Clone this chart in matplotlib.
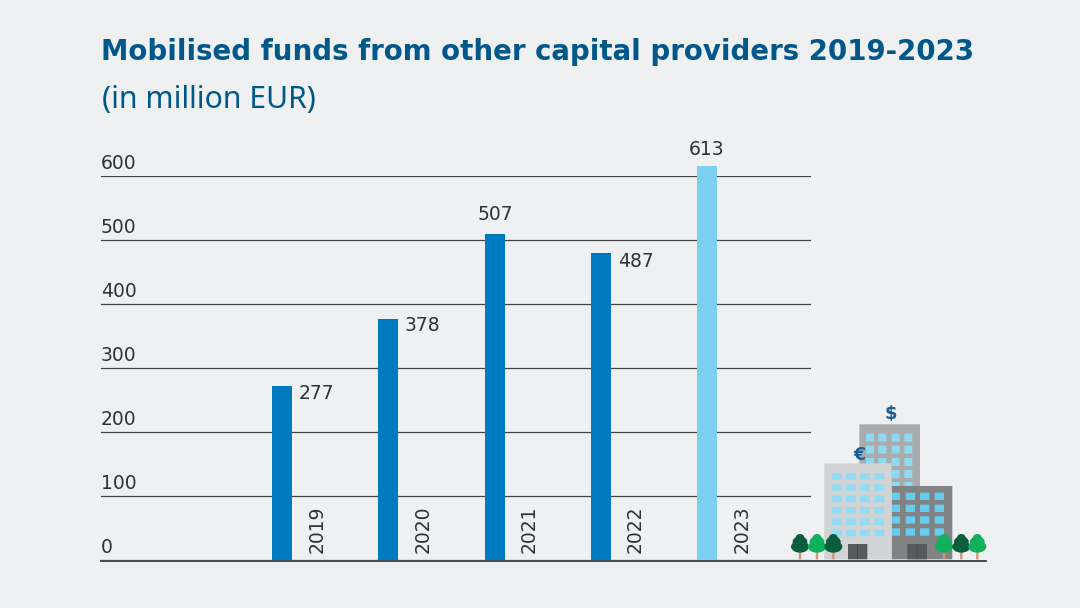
import matplotlib
matplotlib.use("Agg")
import matplotlib.pyplot as plt
from matplotlib.patches import Rectangle, Ellipse

years = ["2019", "2020", "2021", "2022", "2023"]
values = [277, 378, 507, 487, 613]
bar_heights = [272, 377, 509, 480, 616]
y_ticks = [0, 100, 200, 300, 400, 500, 600]
bar_colors = ["#0079c1", "#0079c1", "#0079c1", "#0079c1", "#7bd0f2"]
title = "Mobilised funds from other capital providers 2019-2023"
subtitle = "(in million EUR)"

BG = "#eef0f2"
BLUE = "#00578a"
INK = "#2e3238"
W, H = 1080, 608
plt.rcParams["font.family"] = ["DejaVu Sans"]

fig = plt.figure(figsize=(W / 100, H / 100), dpi=100, facecolor=BG)
L, R, T, B = 101, 811, 176, 560
ax = fig.add_axes([L / W, 1 - B / H, (R - L) / W, (B - T) / H], facecolor="none")
ax.set_ylim(0, 600)
ax.set_xlim((L - 282) / 106.25, (R - 282) / 106.25)
ax.set_yticks(y_ticks)
ax.set_xticks([])
ax.tick_params(left=False, labelleft=False)
for s in ax.spines.values():
    s.set_visible(False)
ax.yaxis.grid(True, color="#444444", lw=0.9)
ax.set_axisbelow(True)

xs = list(range(len(values)))
ax.bar(xs, bar_heights, width=20 / 106.25, color=bar_colors, clip_on=False, zorder=3)

FS = 13.5
for v in y_ticks:
    ax.annotate(str(v), (0, v), xycoords=("axes fraction", "data"), xytext=(0, 9),
                textcoords="offset points", fontsize=FS, color=INK, ha="left", va="center")
label_offsets = [(12, -5.5), (11.5, -5), (0.5, 14), (12.5, -6), (0, 12)]
label_align = ["left", "left", "center", "left", "center"]
for x, v, h, off, al in zip(xs, values, bar_heights, label_offsets, label_align):
    ax.annotate(str(v), (x, h), xytext=off, textcoords="offset points",
                fontsize=FS, color=INK, ha=al, va="center", annotation_clip=False)
for x, yr in zip(xs, years):
    ax.annotate(yr, (x, 0), xytext=(25, 5), textcoords="offset points", rotation=90,
                fontsize=FS, color=INK, ha="center", va="bottom")

# overlay in pixel coordinates for title and illustration
ov = fig.add_axes([0, 0, 1, 1], facecolor="none")
ov.set_xlim(0, W)
ov.set_ylim(H, 0)
ov.axis("off")
ov.text(101, 52, title, fontsize=19.88, fontweight="bold", color=BLUE, va="center", ha="left")
ov.text(101.5, 100, subtitle, fontsize=21.7, family=["Noto Sans", "DejaVu Sans"], color=BLUE, va="center", ha="left")
ov.plot([101, 986], [560.5, 560.5], color="#3a3a3a", lw=1.3, zorder=1)


def zx(v):
    return 780 + v / 3


def zy(v):
    return 390 + v / 3


def rect(x0, y0, x1, y1, c, z=2):
    ov.add_patch(Rectangle((zx(x0), zy(y0)), (x1 - x0) / 3, (y1 - y0) / 3, fc=c, ec="none", zorder=z, snap=False))


rect(238, 103, 420, 300, "#a9abad", 2)
for cx in (258, 295, 335, 373):
    for cy in (131, 167, 204, 240, 276):
        rect(cx, cy, cx + 24, cy + 24, "#8fd9f2", 2.1)
rect(335, 288, 517, 508, "#808284", 3)
for cx in (335, 377, 420, 464):
    for cy in (308, 344, 379, 415):
        rect(cx, cy, cx + (25 if cx == 335 else 28), cy + 22, "#66cdee", 3.1)
rect(133, 220, 335, 508, "#d1d3d4", 4)
for cx in (155, 198, 240, 283):
    for cy in (249, 283, 317, 351, 385, 419):
        rect(cx, cy, cx + 30, cy + 20, "#94dcf3", 4.1)
for d0, d1 in ((204, 262), (382, 441)):
    rect(d0, 462, d1, 508, "#58595b", 5)
    m = (d0 + d1) / 2
    rect(m - 1, 462, m + 1, 508, "#3f4042", 5.1)
ov.text(zx(332), zy(72), "$", fontsize=13, fontweight="bold", color="#1b5e94",
        ha="center", va="center", zorder=6)
ov.text(zx(237), zy(196), "€", fontsize=12.5, fontweight="bold", color="#1b5e94",
        ha="center", va="center", zorder=3.5)


def tree(cx, c):
    rect(cx - 3.5, 480, cx + 3.5, 508, "#c79a78", 6)
    for cy, rw, rh in ((470, 27, 18), (455, 22, 16), (443, 13, 11)):
        ov.add_patch(Ellipse((zx(cx), zy(cy)), 2 * rw / 3, 2 * rh / 3, fc=c, ec="none", zorder=6.1))


for cx, c in ((60, "#0b5e3c"), (111, "#10b15a"), (160, "#0b5e3c"),
              (492, "#10b15a"), (544, "#0b5e3c"), (592, "#10b15a")):
    tree(cx, c)

fig.savefig("out.png", dpi=100, facecolor=BG)
